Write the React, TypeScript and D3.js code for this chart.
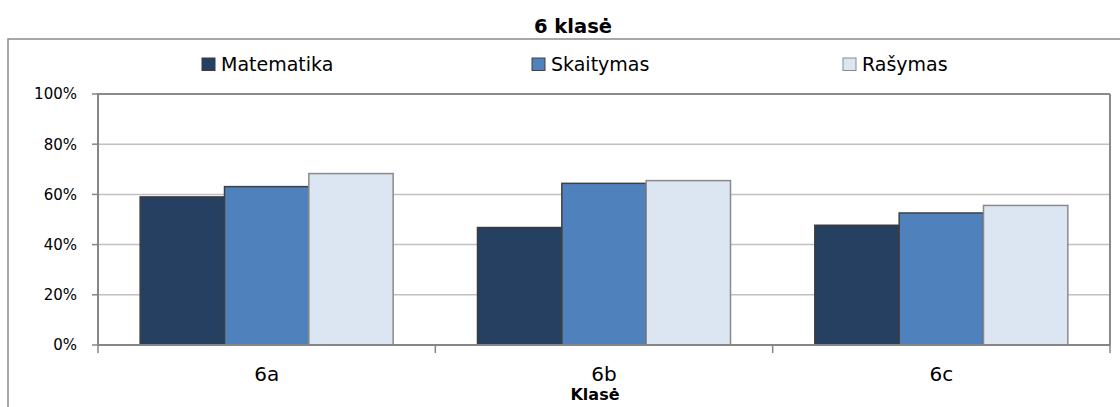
import * as d3 from "d3";
import React from "react";

const categories = ["6a", "6b", "6c"];
const seriesNames = ["Matematika", "Skaitymas", "Rašymas"];
const matematika = [59, 46.8, 47.7];
const skaitymas = [63.1, 64.4, 52.6];
const rasymas = [68.3, 65.5, 55.6];
const yTicks = [0, 20, 40, 60, 80, 100];

const seriesValues = [matematika, skaitymas, rasymas];
const fills = ["#264062", "#4f81bd", "#dce6f2"];
const strokes = ["#3b3b3b", "#404040", "#8a8a8a"];
const legendX = [202, 532, 843];

const FONT = "'DejaVu Sans', 'Liberation Sans', sans-serif";

const App = () => {
  const width = 1120;
  const height = 407;
  const plot = { left: 98, right: 1110, top: 94, bottom: 345 };

  const x0 = d3.scaleBand().domain(categories).range([plot.left, plot.right]).paddingInner(0).paddingOuter(0);
  const x1 = d3
    .scaleBand()
    .domain(seriesNames)
    .range([0, x0.bandwidth()])
    .paddingOuter(0.5)
    .paddingInner(0);
  const y = d3.scaleLinear().domain([0, 100]).range([plot.bottom, plot.top]);

  const catTicks = [...categories.map((c) => x0(c) as number), plot.right];

  return (
    <svg
      width={width}
      height={height}
      style={{ position: "absolute", left: 0, top: 0, background: "#fff" }}
      fontFamily={FONT}
    >
      {/* outer chart frame */}
      <rect x={8} y={39} width={1200} height={500} fill="none" stroke="#8a8a8a" strokeWidth={1.5} />

      <text x={573} y={33} textAnchor="middle" fontWeight="bold" fontSize={19.5} fill="#000">
        6 klasė
      </text>

      {/* legend */}
      {seriesNames.map((s, i) => (
        <g key={s}>
          <rect x={legendX[i]} y={58} width={13} height={12.5} fill={fills[i]} stroke={strokes[i]} strokeWidth={1} />
          <text x={legendX[i] + 19} y={71} fontSize={19} fill="#000">
            {s}
          </text>
        </g>
      ))}

      {/* gridlines */}
      {yTicks.map((t) => (
        <line key={t} x1={plot.left} x2={plot.right} y1={y(t)} y2={y(t)} stroke="#c0c0c0" strokeWidth={1.5} />
      ))}

      {/* plot border top/right */}
      <line x1={plot.left} x2={plot.right} y1={plot.top} y2={plot.top} stroke="#8a8a8a" strokeWidth={2} />
      <line x1={plot.right} x2={plot.right} y1={plot.top} y2={plot.bottom} stroke="#8a8a8a" strokeWidth={2} />

      {/* bars */}
      {categories.map((c, ci) => (
        <g key={c} transform={`translate(${x0(c)},0)`}>
          {seriesNames.map((s, si) => (
            <rect
              key={s}
              x={x1(s) as number}
              y={y(seriesValues[si][ci])}
              width={x1.bandwidth()}
              height={plot.bottom - y(seriesValues[si][ci])}
              fill={fills[si]}
              stroke={strokes[si]}
              strokeWidth={1.5}
            />
          ))}
        </g>
      ))}

      {/* y axis */}
      <line x1={plot.left} x2={plot.left} y1={plot.top - 1} y2={plot.bottom} stroke="#868686" strokeWidth={2} />
      {yTicks.map((t) => (
        <g key={t}>
          <line x1={plot.left - 6} x2={plot.left} y1={y(t)} y2={y(t)} stroke="#868686" strokeWidth={1.5} />
          <text x={77} y={y(t)} dy="0.36em" textAnchor="end" fontSize={15} fill="#000">
            {t}%
          </text>
        </g>
      ))}

      {/* x axis */}
      <line x1={plot.left} x2={plot.right} y1={plot.bottom} y2={plot.bottom} stroke="#868686" strokeWidth={2} />
      {catTicks.map((tx, i) => (
        <line key={i} x1={tx} x2={tx} y1={plot.bottom} y2={plot.bottom + 8} stroke="#868686" strokeWidth={1.5} />
      ))}
      {categories.map((c) => (
        <text
          key={c}
          x={(x0(c) as number) + x0.bandwidth() / 2}
          y={381}
          textAnchor="middle"
          fontSize={20}
          fill="#000"
        >
          {c}
        </text>
      ))}
      <text x={595} y={400} textAnchor="middle" fontWeight="bold" fontSize={16} fill="#000">
        Klasė
      </text>
    </svg>
  );
};

export default App;
